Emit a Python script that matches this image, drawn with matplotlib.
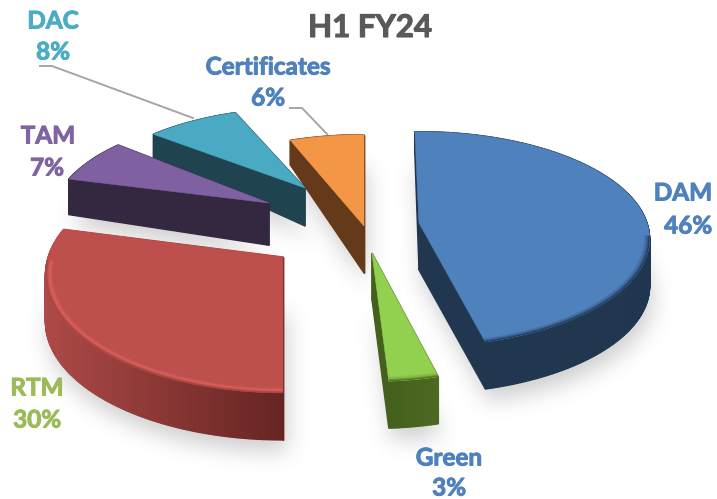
import numpy as np
import matplotlib
matplotlib.use("Agg")
import matplotlib.pyplot as plt
import matplotlib.patheffects as pe
from matplotlib.colors import to_rgb
from matplotlib.path import Path
from matplotlib.patches import Polygon

plt.rcParams['font.family'] = ['Lato', 'DejaVu Sans']

# 数据
labels = ["DAM", "Green", "RTM", "TAM", "DAC", "Certificates"]
shares = [46, 3, 30, 7, 8, 6]
title = "H1 FY24"

# 样式
top_colors = ["#4f81bd", "#92d050", "#bd4f4c", "#7f60a0", "#4aaac4", "#f39646"]
wall_from = ["#1f3550", "#4d6a22", "#ad4a47", "#332840", "#1f444f", "#653a1b"]
wall_to = ["#20374f", "#44601c", "#662523", "#332840", "#1f444f", "#653a1b"]
rim_mid = ["#3f6797", "#7fb545", "#dc625e", None, None, None]
rim_end = ["#223a58", "#4f6d24", "#a5433f", None, None, None]
rim_inner = [0.972, 0.965, 0.965, 1, 1, 1]
rim_start = [97, 165.6, 180, 0, 0, 0]
rim_stop = [165.6, 176.4, 268, 0, 0, 0]
label_colors = ["#4f81bd", "#4f81bd", "#9bbb59", "#8064a2", "#4bacc6", "#4f81bd"]
apex = [(419, 223), (372, 253), (283, 257), (269, 203), (305, 188), (364, 226)]
stretch_x = [1.0, 1.0, 1.03, 0.94, 0.945, 1.0]
stretch_y = [1.0, 1.04, 1.1, 0.95, 0.88, 1.0]
# 起始角微调（原图的切口比例和数字略有出入）
start_trim = [-1.2, 0, 3.6, 0, 0, 0]
label_pos = [(683, 193, 688, 226), (449, 458, 449, 488), (37, 388, 37, 420),
             (48, 136, 47, 168), (53, 21, 53, 52), (268, 67, 268, 98)]
RX, RY, K = 228, 105, 0.15
draw_order = [5, 4, 3, 2, 0, 1]


def ring_points(i, start, end, r=1.0, n=None):
    # 透视下的圆弧：角度从正上方顺时针
    n = n or max(int(end - start) * 2, 6)
    th = np.radians(np.linspace(start, end, n))
    u, v = r * np.sin(th), -r * np.cos(th)
    den = 1 - K * v
    x = apex[i][0] + RX * stretch_x[i] * u / den
    y = apex[i][1] + RY * stretch_y[i] * v / den
    return x, y


def depth_at(y):
    return np.clip(47 - (220 - np.asarray(y, dtype=float)) * 0.28, 18, 47)


def mix(a, b, t):
    a, b = np.array(to_rgb(a)), np.array(to_rgb(b))
    return tuple(a + (b - a) * t)


fig = plt.figure(figsize=(7.17, 4.99), dpi=100)
ax = fig.add_axes([0, 0, 1, 1])
ax.set_xlim(0, 717)
ax.set_ylim(499, 0)
ax.axis("off")

edges = np.cumsum([0] + shares) * 3.6
faces = []
for i in range(len(shares)):
    x, y = ring_points(i, edges[i] + start_trim[i], edges[i + 1])
    faces.append((np.r_[apex[i][0], x], np.r_[apex[i][1], y]))

# 柔和阴影
yy, xx = np.mgrid[0:499, 0:717]
grid = np.c_[xx.ravel(), yy.ravel()]
mask = np.zeros((499, 717))
for fx, fy in faces:
    sy = fy + depth_at(fy) + 12
    mask += Path(np.c_[fx + 3, sy]).contains_points(grid).reshape(mask.shape)
mask = np.clip(mask, 0, 1)
box = np.ones(21) / 21
for _ in range(3):
    mask = np.apply_along_axis(lambda a: np.convolve(a, box, mode="same"), 0, mask)
    mask = np.apply_along_axis(lambda a: np.convolve(a, box, mode="same"), 1, mask)
shadow = np.ones((499, 717, 4))
shadow[..., :3] = 0.35
shadow[..., 3] = mask * 0.3
ax.imshow(shadow, extent=(-0.5, 716.5, 498.5, -0.5), zorder=1, aspect="auto")
ax.set_xlim(0, 717)
ax.set_ylim(499, 0)

# 扇区
z = 2
for i in draw_order:
    fx, fy = faces[i]
    px, py = np.r_[fx, fx[0]], np.r_[fy, fy[0]]
    quads = []
    for j in range(len(fx)):
        d0, d1 = depth_at(py[j]), depth_at(py[j + 1])
        t = np.clip(j / (len(fx) - 2), 0, 1) if i != 2 else np.clip((px[j] - 45) / 238, 0, 1)
        quads.append((py[j] + py[j + 1],
                      [(px[j], py[j]), (px[j + 1], py[j + 1]),
                       (px[j + 1], py[j + 1] + d1), (px[j], py[j] + d0)],
                      mix(wall_from[i], wall_to[i], t)))
    quads.sort(key=lambda q: q[0])
    for _, q, c in quads:
        ax.add_patch(Polygon(q, closed=True, fc=c, ec=c, lw=1.0, zorder=z))
    top = Polygon(np.c_[fx, fy], closed=True, fc=top_colors[i], ec=top_colors[i], lw=0.4, zorder=z + 1)
    ax.add_patch(top)
    if rim_mid[i]:
        # 前缘高光 / 暗边
        steps = np.linspace(rim_inner[i], 1.0, 10)
        for k in range(len(steps) - 1):
            t = k / (len(steps) - 2)
            if t < 0.6:
                c = mix(top_colors[i], rim_mid[i], t / 0.6)
            else:
                c = mix(rim_mid[i], rim_end[i], (t - 0.6) / 0.4)
            ax0, ay0 = ring_points(i, rim_start[i], rim_stop[i], steps[k])
            ax1, ay1 = ring_points(i, rim_start[i], rim_stop[i], steps[k + 1])
            ring = np.c_[np.r_[ax0, ax1[::-1]], np.r_[ay0, ay1[::-1]]]
            p = Polygon(ring, closed=True, fc=c, ec=c, lw=0.3, zorder=z + 2)
            ax.add_patch(p)
            p.set_clip_path(top)
    z += 3

# 引导线
ax.plot([40, 52, 193], [66, 66, 118], color="#a6a6a6", lw=1.4, zorder=40)
ax.plot([290, 302, 327], [108, 108, 134], color="#a6a6a6", lw=1.4, zorder=40)

# 文字
for i, name in enumerate(labels):
    lx, ly, px, py = label_pos[i]
    stroke = [pe.withStroke(linewidth=0.7, foreground=label_colors[i])]
    ax.text(lx, ly, name, color=label_colors[i], fontsize=17.5, fontweight="bold",
            ha="center", va="center", zorder=50, path_effects=stroke)
    ax.text(px, py, f"{shares[i]}%", color=label_colors[i], fontsize=17.5, fontweight="bold",
            ha="center", va="center", zorder=50, path_effects=stroke)
ax.text(370, 28, title, color="#595959", fontsize=22.5, fontweight="bold",
        ha="center", va="center", zorder=50,
        path_effects=[pe.withStroke(linewidth=0.8, foreground="#595959")])

fig.savefig("out.png", dpi=100)
